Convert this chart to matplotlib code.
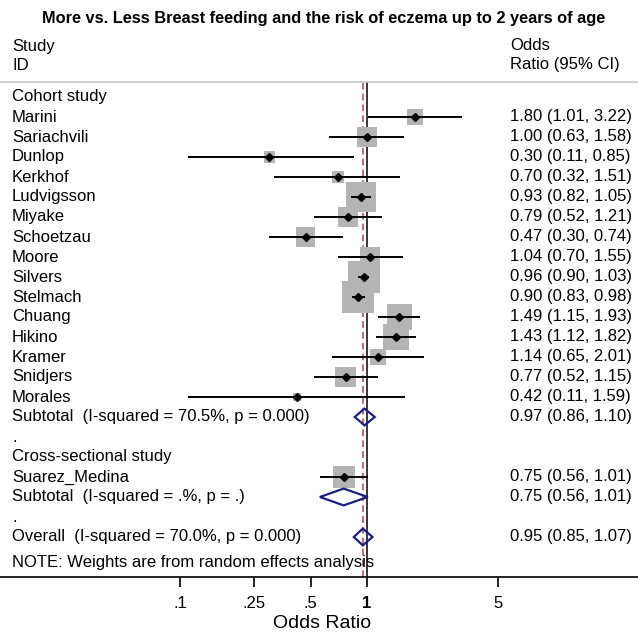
import numpy as np
import matplotlib
matplotlib.use('Agg')
import matplotlib.pyplot as plt
from matplotlib.patches import Polygon
import matplotlib.transforms as mtransforms

plt.rcParams['font.family'] = ['Liberation Sans', 'DejaVu Sans']

###
### DATA
###
studies = ['Marini', 'Sariachvili', 'Dunlop', 'Kerkhof', 'Ludvigsson', 'Miyake',
           'Schoetzau', 'Moore', 'Silvers', 'Stelmach', 'Chuang', 'Hikino',
           'Kramer', 'Snidjers', 'Morales']
or_est = [1.80, 1.00, 0.30, 0.70, 0.93, 0.79, 0.47, 1.04, 0.96, 0.90, 1.49, 1.43, 1.14, 0.77, 0.42]
or_lo = [1.01, 0.63, 0.11, 0.32, 0.82, 0.52, 0.30, 0.70, 0.90, 0.83, 1.15, 1.12, 0.65, 0.52, 0.11]
or_hi = [3.22, 1.58, 0.85, 1.51, 1.05, 1.21, 0.74, 1.55, 1.03, 0.98, 1.93, 1.82, 2.01, 1.15, 1.59]
# weights (%)
weights = [3.4, 4.8, 1.6, 2.2, 11.9, 5.3, 4.8, 5.3, 13.5, 13.5, 8.3, 8.9, 3.4, 5.8, 0.85]

cs_studies = ['Suarez_Medina']
cs_est = [0.75]
cs_lo = [0.56]
cs_hi = [1.01]
cs_weights = [6.4]

# pooled estimates: (label, est, lo, hi)
sub1 = ('Subtotal  (I-squared = 70.5%, p = 0.000)', 0.97, 0.86, 1.10)
sub2 = ('Subtotal  (I-squared = .%, p = .)', 0.75, 0.56, 1.01)
overall = ('Overall  (I-squared = 70.0%, p = 0.000)', 0.95, 0.85, 1.07)

xticks = [0.1, 0.25, 0.5, 1, 5]
xticklabels = ['.1', '.25', '.5', '1', '5']

###
### LAYOUT
###
W, H = 638, 633
fig = plt.figure(figsize=(W / 100, H / 100), dpi=100)
ax_top, ax_bot = 82, 577
ax = fig.add_axes([0, 1 - ax_bot / H, 1, (ax_bot - ax_top) / H])

# pixel -> row: row 0 at y=97, 20 px per row
y0, dy = 97, 20
ax.set_ylim((ax_bot - y0) / dy, (ax_top - y0) / dy)
ax.set_xscale('log')
x1, dec = 367, 187
ax.set_xlim(10 ** (-x1 / dec), 10 ** ((W - x1) / dec))

grey_box = '#b4b4b4'
navy = '#1a1f80'
fs = 12

# reference lines
ax.axvline(1, color='black', lw=1.1, zorder=1)
ax.axvline(overall[1], color='#b5525c', lw=1.2, ls=(0, (4, 2.5)), zorder=1)

tr = mtransforms.blended_transform_factory(ax.transAxes, ax.transData)
xl, xr = 12 / W, 510 / W


def study_rows(names, est, lo, hi, w, start):
    rows = np.arange(start, start + len(names))
    side = np.sqrt(np.array(w)) * 8.7 * 0.72  # points
    ax.scatter(est, rows, s=side ** 2, marker='s', color=grey_box, lw=0, zorder=2)
    ax.hlines(rows, lo, hi, color='black', lw=1.4, zorder=3)
    ax.plot(est, rows, 'D', color='black', ms=4.5, zorder=4)
    for r, n, e, l, h in zip(rows, names, est, lo, hi):
        ax.text(xl, r, n, transform=tr, va='center', fontsize=fs)
        ax.text(xr, r, '%.2f (%.2f, %.2f)' % (e, l, h), transform=tr, va='center', fontsize=fs)


def diamond(pooled, r):
    lab, e, l, h = pooled
    hh = 0.42
    ax.add_patch(Polygon([(l, r), (e, r - hh), (h, r), (e, r + hh)], closed=True,
                         fill=False, edgecolor=navy, lw=1.6, zorder=5))
    ax.text(xl, r, lab, transform=tr, va='center', fontsize=fs)
    ax.text(xr, r, '%.2f (%.2f, %.2f)' % (e, l, h), transform=tr, va='center', fontsize=fs)


ax.text(xl, 0, 'Cohort study', transform=tr, va='center', fontsize=fs)
study_rows(studies, or_est, or_lo, or_hi, weights, 1)
diamond(sub1, 16)
ax.text(xl, 17, '.', transform=tr, va='center', fontsize=fs)
ax.text(xl, 18, 'Cross-sectional study', transform=tr, va='center', fontsize=fs)
study_rows(cs_studies, cs_est, cs_lo, cs_hi, cs_weights, 19)
diamond(sub2, 20)
ax.text(xl, 21, '.', transform=tr, va='center', fontsize=fs)
diamond(overall, 22)
ax.text(xl, 23.3, 'NOTE: Weights are from random effects analysis', transform=tr,
        va='center', fontsize=fs)

# axes styling
for s in ['left', 'right']:
    ax.spines[s].set_visible(False)
ax.spines['top'].set_color('#c8c8c8')
ax.spines['top'].set_linewidth(1.2)
ax.spines['bottom'].set_linewidth(1.2)
ax.set_yticks([])
ax.set_xticks(xticks)
ax.set_xticklabels(xticklabels, fontsize=fs)
ax.minorticks_off()
ax.tick_params(axis='x', direction='out', length=7.5, width=1.2, pad=6)
for t in ax.get_xticklabels():
    if t.get_text() == '1':
        t.set_fontweight('bold')

# header / title
fy = lambda py: 1 - py / H
fig.text(324 / W, fy(19), 'More vs. Less Breast feeding and the risk of eczema up to 2 years of age',
         ha='center', va='center', fontsize=11.8, fontweight='bold')
fig.text(xl, fy(46), 'Study', va='center', fontsize=fs)
fig.text(xl, fy(65), 'ID', va='center', fontsize=fs)
fig.text(xr, fy(46), 'Odds', va='center', fontsize=fs)
fig.text(xr, fy(65), 'Ratio (95% CI)', va='center', fontsize=fs)
fig.text(322 / W, fy(623), 'Odds Ratio', ha='center', va='center', fontsize=14)

fig.savefig('out.png', dpi=100)
